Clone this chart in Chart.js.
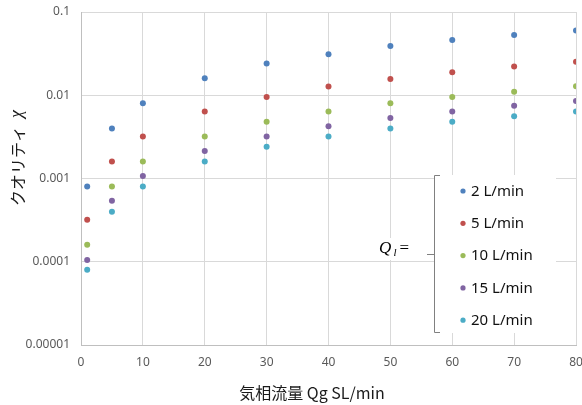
<!DOCTYPE html>
<html>
<head>
<meta charset="utf-8">
<script src="https://cdn.jsdelivr.net/npm/chart.js@4/dist/chart.umd.min.js"></script>
<style>
  html, body { margin: 0; padding: 0; background: #fff; }
  #wrap { width: 582px; height: 405px; }
</style>
</head>
<body>
<div id="wrap"><canvas id="qualityChart" width="582" height="405"></canvas></div>
<script>
// gas flow rate Qg (SL/min)
const gasFlow = [1, 5, 10, 20, 30, 40, 50, 60, 70, 80];

// quality chi for each liquid flow rate
const chi2 = [0.0008, 0.004, 0.008, 0.016, 0.024, 0.031, 0.039, 0.046, 0.053, 0.060];
const chi5 = [0.00032, 0.0016, 0.0032, 0.0064, 0.0095, 0.0127, 0.0157, 0.0189, 0.0221, 0.0253];
const chi10 = [0.00016, 0.0008, 0.0016, 0.0032, 0.0048, 0.0064, 0.0080, 0.0095, 0.0110, 0.0128];
const chi15 = [0.000105, 0.00054, 0.00107, 0.00214, 0.0032, 0.00425, 0.00534, 0.0064, 0.0075, 0.00855];
const chi20 = [0.00008, 0.0004, 0.0008, 0.0016, 0.0024, 0.0032, 0.0040, 0.0048, 0.0056, 0.0064];

const seriesLabels = ['2 L/min', '5 L/min', '10 L/min', '15 L/min', '20 L/min'];
const seriesColors = ['#4F81BD', '#C0504D', '#9BBB59', '#8064A2', '#4BACC6'];

const yTickValues = [0.00001, 0.0001, 0.001, 0.01, 0.1];
const yTickLabels = ['0.00001', '0.0001', '0.001', '0.01', '0.1'];

const allSeries = [chi2, chi5, chi10, chi15, chi20];

const datasets = allSeries.map((vals, i) => ({
    label: seriesLabels[i],
    data: gasFlow.map((x, j) => ({ x: x, y: vals[j] })),
    backgroundColor: seriesColors[i],
    borderColor: seriesColors[i],
    pointRadius: 3,
    pointBorderWidth: 0,
    pointHoverRadius: 3
}));

const TICK_FONT = { family: '"Noto Sans", sans-serif', size: 12 };

// no extra room for tick labels that hang over the plot edges
function noEdgePadding(scale) {
    scale.paddingLeft = 0;
    scale.paddingRight = 0;
    scale.paddingTop = 0;
    scale.paddingBottom = 0;
}

// axis titles + bracket legend drawn on top of the plot
const overlayPlugin = {
    id: 'overlay',
    afterDraw(chart) {
        const ctx = chart.ctx;
        ctx.save();

        // y axis title
        ctx.save();
        ctx.translate(17.5, 158);
        ctx.rotate(-Math.PI / 2);
        ctx.fillStyle = '#1a1a1a';
        ctx.textBaseline = 'middle';
        const kanaFont = '16px "Noto Sans CJK JP"';
        const chiFont = 'italic 18px "Liberation Serif"';
        ctx.font = kanaFont;
        const kana = 'クオリティ';
        const wKana = ctx.measureText(kana).width;
        ctx.font = chiFont;
        const wChi = ctx.measureText('χ').width;
        const gap = 8;
        const total = wKana + gap + wChi;
        ctx.textAlign = 'left';
        ctx.font = kanaFont;
        ctx.fillText(kana, -total / 2, 0);
        ctx.font = chiFont;
        ctx.fillText('χ', -total / 2 + wKana + gap, 0);
        ctx.restore();

        // x axis title
        ctx.fillStyle = '#1a1a1a';
        ctx.font = '16px "Noto Sans CJK JP"';
        ctx.textAlign = 'center';
        ctx.textBaseline = 'middle';
        ctx.fillText('気相流量 Qg SL/min', 312, 393);

        // legend box
        ctx.fillStyle = '#fff';
        ctx.fillRect(435, 175, 121, 158);
        ctx.fillRect(376, 238, 38, 22);

        // bracket
        ctx.strokeStyle = '#808080';
        ctx.lineWidth = 1;
        ctx.beginPath();
        ctx.moveTo(440, 175.5);
        ctx.lineTo(434.5, 175.5);
        ctx.lineTo(434.5, 332.5);
        ctx.lineTo(440, 332.5);
        ctx.moveTo(434.5, 254.5);
        ctx.lineTo(427, 254.5);
        ctx.stroke();

        // Q_l =
        ctx.fillStyle = '#000';
        ctx.textAlign = 'left';
        ctx.textBaseline = 'alphabetic';
        ctx.font = 'italic 17px "Liberation Serif"';
        ctx.fillText('Q', 379, 253);
        ctx.font = 'italic 11px "Liberation Serif"';
        ctx.fillText('l', 393.5, 256);
        ctx.font = '17px "Liberation Serif"';
        ctx.fillText('=', 399.5, 253);

        // legend entries
        const rowY = [191, 223.3, 255.6, 287.9, 320.2];
        chart.data.datasets.forEach((ds, i) => {
            ctx.fillStyle = ds.backgroundColor;
            ctx.beginPath();
            ctx.arc(463, rowY[i], 2.6, 0, Math.PI * 2);
            ctx.fill();
            ctx.fillStyle = '#111';
            ctx.font = '15px "Noto Sans"';
            ctx.textAlign = 'left';
            ctx.textBaseline = 'middle';
            ctx.fillText(ds.label, 471, rowY[i] + 0.5);
        });

        ctx.restore();
    }
};

new Chart(document.getElementById('qualityChart'), {
    type: 'scatter',
    data: { datasets: datasets },
    plugins: [overlayPlugin],
    options: {
        responsive: false,
        animation: false,
        devicePixelRatio: 1,
        layout: { autoPadding: false, padding: { top: 12, right: 6, left: 0, bottom: 0 } },
        plugins: {
            legend: { display: false },
            tooltip: { enabled: false }
        },
        scales: {
            x: {
                type: 'linear',
                min: 0,
                max: 80,
                afterFit: (scale) => { scale.height = 60; noEdgePadding(scale); },
                ticks: { stepSize: 10, color: '#595959', font: TICK_FONT, padding: 10, maxRotation: 0 },
                grid: { color: '#d9d9d9', drawTicks: false, tickLength: 0 },
                border: { color: '#bfbfbf' }
            },
            y: {
                type: 'logarithmic',
                min: 0.00001,
                max: 0.1,
                afterFit: (scale) => { scale.width = 81; noEdgePadding(scale); },
                afterBuildTicks: (scale) => {
                    scale.ticks = yTickValues.map(v => ({ value: v }));
                },
                ticks: {
                    color: '#595959',
                    font: TICK_FONT,
                    padding: 11,
                    callback: (value, index) => yTickLabels[index]
                },
                grid: { color: '#d9d9d9', drawTicks: false, tickLength: 0 },
                border: { color: '#bfbfbf' }
            }
        }
    }
});
</script>
</body>
</html>
